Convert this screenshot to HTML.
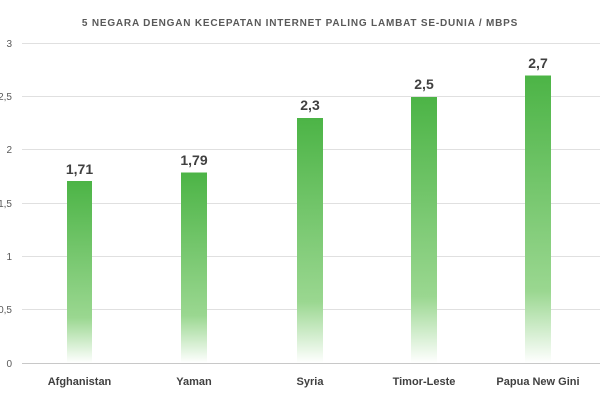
<!DOCTYPE html>
<html><head><meta charset="utf-8"><style>
body{margin:0;background:#fff;}
svg text{font-family:"Liberation Sans",sans-serif;}
</style></head><body>
<svg width="600" height="400" xmlns="http://www.w3.org/2000/svg">
<defs><linearGradient id="g" x1="0" y1="0" x2="0" y2="1">
<stop offset="0" stop-color="#4cb446"/>
<stop offset="0.75" stop-color="#9ad790"/>
<stop offset="1" stop-color="#ffffff"/>
</linearGradient></defs>
<text x="300" y="26" text-anchor="middle" font-size="10" font-weight="bold" fill="#595959" letter-spacing="0.8">5 NEGARA DENGAN KECEPATAN INTERNET PALING LAMBAT SE-DUNIA / MBPS</text>
<g stroke="#e0e0e0" stroke-width="1">
<line x1="22" x2="600" y1="43.5" y2="43.5"/>
<line x1="22" x2="600" y1="96.5" y2="96.5"/>
<line x1="22" x2="600" y1="149.5" y2="149.5"/>
<line x1="22" x2="600" y1="203.5" y2="203.5"/>
<line x1="22" x2="600" y1="256.5" y2="256.5"/>
<line x1="22" x2="600" y1="309.5" y2="309.5"/>
</g>
<line x1="22" x2="600" y1="363.5" y2="363.5" stroke="#c8c8c8"/>
<g font-size="10" fill="#595959" text-anchor="end">
<text x="12" y="47">3</text><text x="12" y="100">2,5</text><text x="12" y="153">2</text>
<text x="12" y="207">1,5</text><text x="12" y="260">1</text><text x="12" y="313">0,5</text><text x="12" y="367">0</text>
</g>
<g fill="url(#g)">
<rect x="67" y="181" width="25" height="182"/>
<rect x="181" y="172.5" width="26" height="190.5"/>
<rect x="297" y="118" width="26" height="245"/>
<rect x="411" y="97" width="26" height="266"/>
<rect x="525" y="75.5" width="26" height="287.5"/>
</g>
<g font-size="14" font-weight="bold" fill="#404040" text-anchor="middle">
<text x="79.5" y="174">1,71</text><text x="194" y="165">1,79</text><text x="310" y="110">2,3</text>
<text x="424" y="89">2,5</text><text x="538" y="68">2,7</text>
</g>
<g font-size="11" font-weight="bold" fill="#404040" text-anchor="middle">
<text x="79.5" y="385">Afghanistan</text><text x="194" y="385">Yaman</text><text x="310" y="385">Syria</text>
<text x="424" y="385">Timor-Leste</text><text x="538" y="385">Papua New Gini</text>
</g>
</svg>
</body></html>
